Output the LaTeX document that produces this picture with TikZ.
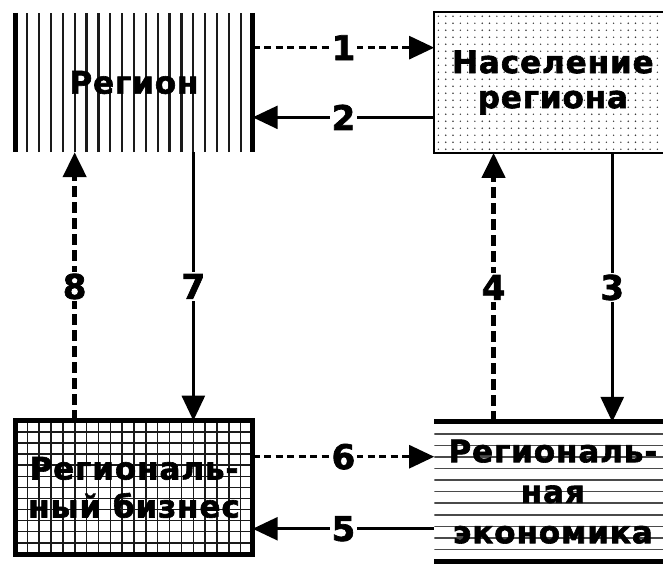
\documentclass[tikz,border=0pt]{standalone}
\usepackage{fontspec}
\usetikzlibrary{arrows.meta,positioning,calc}
\newfontfamily\boxfont[LetterSpace=3, FakeBold=2]{DejaVu Sans}
\definecolor{hatch}{HTML}{1A1A1A}
\definecolor{rulegray}{HTML}{4A4A4A}
\definecolor{speck}{HTML}{3A3A3A}

\tikzset{
  box/.style={rectangle, inner sep=0pt, minimum width=237pt, align=center},
  vhatch/.style={path picture={
    \foreach \k in {1,...,19}
      \draw[hatch, line width=2.2pt]
        ($(path picture bounding box.south west)!\k/20!(path picture bounding box.south east)$) --
        ($(path picture bounding box.north west)!\k/20!(path picture bounding box.north east)$);
  }},
  hhatch/.style={path picture={
    \foreach \k in {1,...,11}
      \draw[rulegray, line width=1.6pt]
        ($(path picture bounding box.north west)!\k/12!(path picture bounding box.south west)$) --
        ($(path picture bounding box.north east)!\k/12!(path picture bounding box.south east)$);
  }},
  grid/.style={path picture={
    \foreach \k in {1,...,19}
      \draw[hatch, line width=1.5pt]
        ($(path picture bounding box.south west)!\k/20!(path picture bounding box.south east)$) --
        ($(path picture bounding box.north west)!\k/20!(path picture bounding box.north east)$);
    \foreach \k in {1,...,11}
      \draw[hatch, line width=1.5pt]
        ($(path picture bounding box.north west)!\k/12!(path picture bounding box.south west)$) --
        ($(path picture bounding box.north east)!\k/12!(path picture bounding box.south east)$);
  }},
  dots/.style={path picture={
    \foreach \i in {0,...,32}
      \foreach \j in {0,...,20}
        \fill[speck] ($(path picture bounding box.north west)+(\i*7.3pt+4pt,-\j*7pt-4pt)$) circle (0.8pt);
  }},
  num/.style={fill=white, inner sep=2pt, font=\boxfont\bfseries\fontsize{34}{36}\selectfont},
  link/.style={line width=2.6pt, -{Triangle[length=25pt,width=23pt]}},
  linkd/.style={link, dash pattern=on 7pt off 4.5pt},
  linkdd/.style={link, line width=4.5pt, dash pattern=on 11pt off 5pt},
}

\begin{document}
\begin{tikzpicture}[x=1pt, y=1pt, font=\boxfont\bfseries\fontsize{31}{35}\selectfont]
  \useasboundingbox (0,0) rectangle (663,-563);

  % blocks
  \node[box, vhatch, minimum height=139pt] (region) at (134,-82.5) {Регион};
  \node[box, dots, minimum height=140.5pt, right=181.5pt of region] (pop) {Население\\региона};
  \node[box, grid, minimum height=133pt, below=268.5pt of region,
    font=\boxfont\bfseries\fontsize{31}{38}\selectfont] (biz) {Региональ-\\ный бизнес};
  \node[box, hhatch, minimum height=139pt, below=269pt of pop,
    font=\boxfont\bfseries\fontsize{31}{40.5}\selectfont] (econ) {Региональ-\\ная\\экономика};

  % borders
  \draw[line width=5.5pt] (region.north west) -- (region.south west)
    (region.north east) -- (region.south east);
  \draw[line width=1.5pt] (pop.north west) rectangle (pop.south east);
  \draw[line width=5pt] (biz.north west) rectangle (biz.south east);
  \draw[line width=5pt] (econ.north west) -- (econ.north east)
    (econ.south west) -- (econ.south east);

  % horizontal links
  \coordinate (h1) at ($(region.north east)!0.25!(region.south east)$);
  \coordinate (h2) at ($(region.north east)!0.75!(region.south east)$);
  \coordinate (h6) at ($(biz.north east)!0.27!(biz.south east)$);
  \coordinate (h5) at ($(biz.north east)!0.81!(biz.south east)$);
  \draw[linkd] (h1) -- (h1 -| pop.west) node[num, midway] {1};
  \draw[link] (h2 -| pop.west) -- (h2) node[num, midway] {2};
  \draw[linkd] (h6) -- (h6 -| econ.west) node[num, midway] {6};
  \draw[link] (h5 -| econ.west) -- (h5) node[num, midway] {5};

  % vertical links
  \coordinate (v8) at ($(region.south west)!0.25!(region.south east)$);
  \coordinate (v7) at ($(region.south west)!0.75!(region.south east)$);
  \coordinate (v4) at ($(pop.south west)!0.25!(pop.south east)$);
  \coordinate (v3) at ($(pop.south west)!0.75!(pop.south east)$);
  \draw[linkdd] (v8 |- biz.north) -- (v8) node[num, midway] {8};
  \draw[link] (v7) -- (v7 |- biz.north) node[num, midway] {7};
  \draw[linkdd] (v4 |- econ.north) -- (v4) node[num, midway] {4};
  \draw[link] (v3) -- (v3 |- econ.north) node[num, midway] {3};
\end{tikzpicture}
\end{document}
